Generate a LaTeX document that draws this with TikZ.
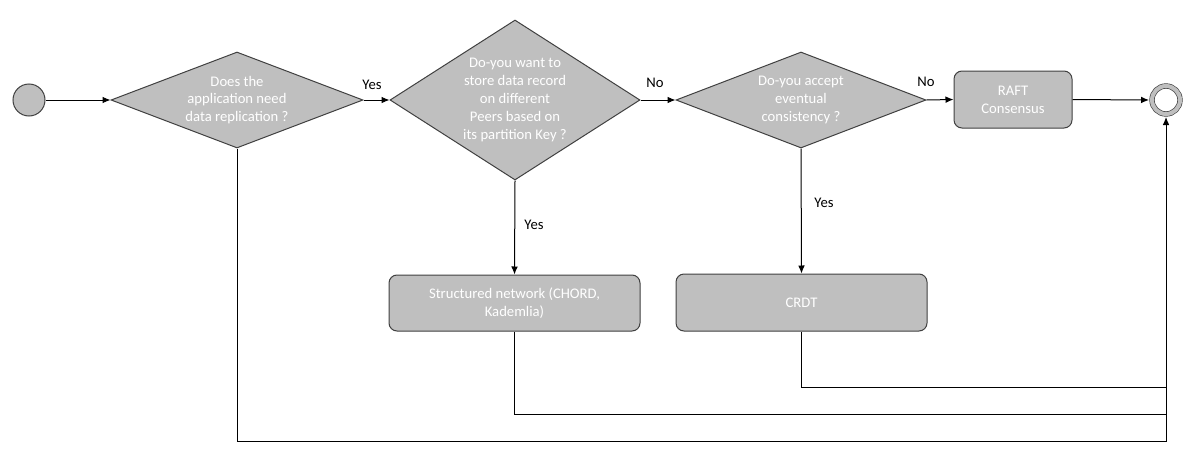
\documentclass[tikz,border=0pt]{standalone}
\usepackage{fontspec}
\setmainfont{Carlito}
\usetikzlibrary{shapes.geometric,arrows.meta}
\definecolor{boxgray}{HTML}{BFBFBF}
\definecolor{linegray}{HTML}{404040}
\tikzset{
  every node/.style={font=\fontsize{11}{13.4}\selectfont},
  dec/.style={diamond, draw=linegray, line width=0.75pt, fill=boxgray, text=white, align=center, inner sep=0pt},
  act/.style={rectangle, rounded corners=6pt, draw=linegray, line width=0.75pt, fill=boxgray, text=white, align=center, inner sep=0pt},
  conn/.style={line width=0.75pt, black},
  arr/.style={conn, -{Latex[length=6pt,width=5pt]}},
  lbl/.style={text=black, inner sep=0pt}
}
\begin{document}
\begin{tikzpicture}[x=0.75pt,y=-0.75pt]
\useasboundingbox (0,0) rectangle (1195,464);
\node[circle, draw=linegray, line width=0.75pt, fill=boxgray, minimum size=24pt, inner sep=0pt] (start) at (29,100) {};
\node[dec, shape aspect=2.6, minimum width=189pt, minimum height=72pt] (d1) at (237,100) {Does the\\application need\\data replication ?};
\node[dec, shape aspect=1.56, minimum width=187.5pt, minimum height=120pt] (d2) at (515,100) {Do-you want to\\store data record\\on different\\Peers based on\\its partition Key ?};
\node[dec, shape aspect=2.6, minimum width=187.5pt, minimum height=72pt] (d3) at (801,100) {Do-you accept\\eventual\\consistency ?};
\node[act, minimum width=88.5pt, minimum height=42.75pt] (raft) at (1013,99.5) {RAFT\\Consensus};
\node[circle, draw=linegray, line width=0.5pt, double=boxgray, double distance=3pt, fill=white, minimum size=21pt, inner sep=0pt] (end) at (1166,100) {};
\node[act, minimum width=188.25pt, minimum height=42pt] (struct) at (514.5,303) {Structured network (CHORD,\\Kademlia)};
\node[act, minimum width=188.25pt, minimum height=42.75pt] (crdt) at (801.5,302.5) {CRDT};

\coordinate (c1) at (1166,387);
\coordinate (c2) at (1166,414);
\coordinate (c3) at (1166,441);

\draw[arr] (start) -- (d1.west);
\draw[arr] (d1.east) -- (d2.west);
\draw[arr] (d2.east) -- (d3.west);
\draw[arr] (d3.east) -- (raft.west);
\draw[arr] (raft.east) -- ([xshift=-2pt]end.west);
\draw[arr] (d2.south) -- (struct.north);
\draw[arr] (d3.south) -- (crdt.north);
\draw[conn] (crdt.south) |- (c1);
\draw[conn] (struct.south) |- (c2);
\draw[arr] (d1.south) |- (c3) -- ([yshift=-2pt]end.south);

\node[lbl] (y1) at (372,85) {Yes};
\node[lbl] (n1) at (655,83) {No};
\node[lbl] (n2) at (926,82) {No};
\node[lbl] (y2) at (534,225) {Yes};
\node[lbl] (y3) at (824,203) {Yes};
\end{tikzpicture}
\end{document}
